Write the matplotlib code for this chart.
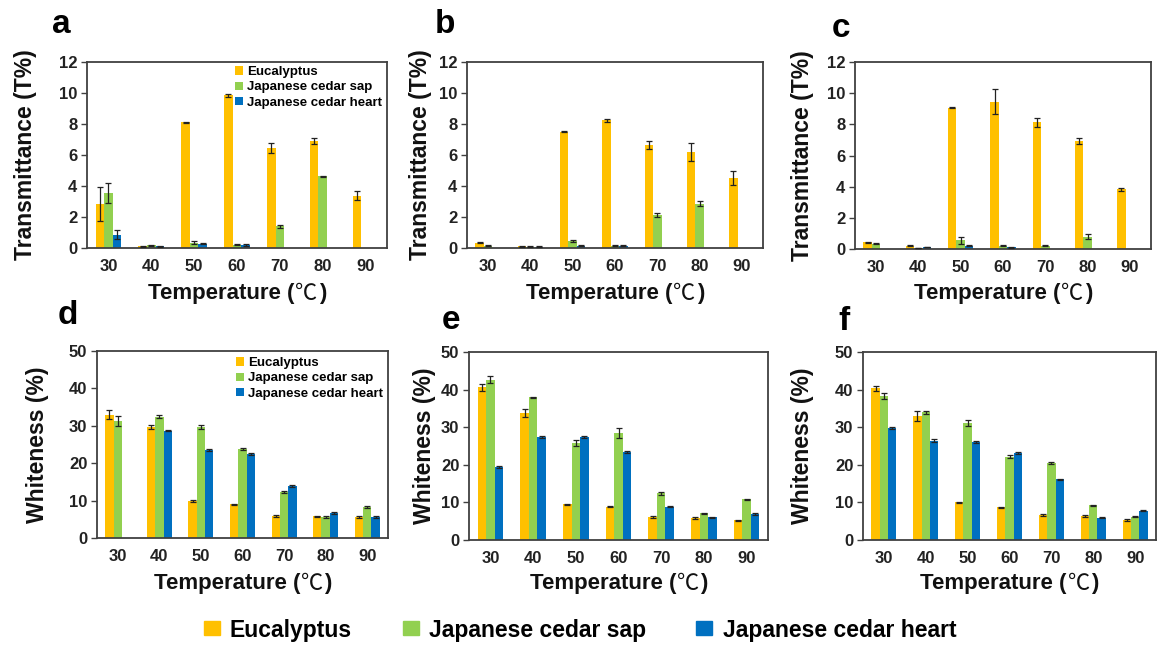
import matplotlib
matplotlib.use("Agg")
import matplotlib.pyplot as plt
from matplotlib.patches import Patch
import numpy as np

plt.rcParams['font.family'] = ['Liberation Sans', 'Noto Sans CJK SC', 'DejaVu Sans']
plt.rcParams['font.weight'] = 'bold'

temps = ["30", "40", "50", "60", "70", "80", "90"]
series_names = ["Eucalyptus", "Japanese cedar sap", "Japanese cedar heart"]
colors = ["#FFC000", "#92D050", "#0070C0"]

# Transmittance (T%)
a_euc = [2.85, 0.12, 8.1, 9.85, 6.45, 6.88, 3.38]
a_sap = [3.55, 0.18, 0.35, 0.22, 1.4, 4.62, 0.0]
a_heart = [0.86, 0.10, 0.28, 0.18, 0.0, 0.0, 0.0]
a_euc_err = [1.1, 0.03, 0.03, 0.1, 0.3, 0.2, 0.3]
a_sap_err = [0.65, 0.03, 0.12, 0.03, 0.08, 0.03, 0.0]
a_heart_err = [0.3, 0.03, 0.05, 0.05, 0.0, 0.0, 0.0]

b_euc = [0.33, 0.12, 7.5, 8.23, 6.65, 6.2, 4.5]
b_sap = [0.15, 0.08, 0.45, 0.15, 2.12, 2.87, 0.0]
b_heart = [0.0, 0.08, 0.15, 0.15, 0.0, 0.0, 0.0]
b_euc_err = [0.03, 0.03, 0.03, 0.1, 0.25, 0.6, 0.45]
b_sap_err = [0.03, 0.03, 0.05, 0.03, 0.15, 0.15, 0.0]
b_heart_err = [0.0, 0.03, 0.05, 0.05, 0.0, 0.0, 0.0]

c_euc = [0.42, 0.2, 9.08, 9.45, 8.12, 6.94, 3.83]
c_sap = [0.35, 0.07, 0.55, 0.2, 0.22, 0.8, 0.0]
c_heart = [0.0, 0.13, 0.2, 0.12, 0.0, 0.0, 0.0]
c_euc_err = [0.05, 0.03, 0.03, 0.8, 0.3, 0.2, 0.1]
c_sap_err = [0.05, 0.02, 0.25, 0.03, 0.05, 0.15, 0.0]
c_heart_err = [0.0, 0.03, 0.03, 0.03, 0.0, 0.0, 0.0]

# Whiteness (%)
d_euc = [32.9, 29.7, 9.9, 9.0, 5.9, 5.8, 5.6]
d_sap = [31.3, 32.4, 29.7, 23.75, 12.2, 5.6, 8.3]
d_heart = [0.0, 28.7, 23.5, 22.4, 13.9, 6.7, 5.6]
d_euc_err = [1.2, 0.6, 0.3, 0.2, 0.2, 0.2, 0.2]
d_sap_err = [1.3, 0.4, 0.5, 0.2, 0.3, 0.2, 0.2]
d_heart_err = [0.0, 0.2, 0.2, 0.2, 0.2, 0.2, 0.2]

e_euc = [40.6, 33.7, 9.5, 8.9, 6.2, 5.9, 5.2]
e_sap = [42.6, 37.9, 25.8, 28.4, 12.4, 7.1, 10.8]
e_heart = [19.4, 27.4, 27.3, 23.4, 8.9, 6.0, 6.9]
e_euc_err = [0.9, 1.1, 0.2, 0.2, 0.3, 0.2, 0.2]
e_sap_err = [0.9, 0.2, 0.8, 1.3, 0.3, 0.2, 0.2]
e_heart_err = [0.3, 0.3, 0.3, 0.2, 0.2, 0.2, 0.2]

f_euc = [40.3, 32.9, 10.0, 8.7, 6.6, 6.3, 5.3]
f_sap = [38.4, 34.0, 31.1, 22.2, 20.4, 9.2, 6.2]
f_heart = [29.8, 26.4, 26.0, 23.2, 16.1, 5.95, 7.8]
f_euc_err = [0.6, 1.3, 0.2, 0.2, 0.2, 0.3, 0.2]
f_sap_err = [0.8, 0.4, 0.9, 0.3, 0.3, 0.2, 0.2]
f_heart_err = [0.3, 0.4, 0.3, 0.2, 0.2, 0.2, 0.2]

W, H = 1159, 646
fig = plt.figure(figsize=(W / 100, H / 100), dpi=100)
renderer = fig.canvas.get_renderer()

def px_axes(l, t, r, b):
    return fig.add_axes([l / W, 1 - b / H, (r - l) / W, (b - t) / H])

def temp_label(cx, cy, size=16):
    # "Temperature (" bold, "℃" regular, ")" bold, centred at pixel (cx, cy)
    parts = [("Temperature (", 'bold', ['Liberation Sans']),
             ("\u2103", 'normal', ['Noto Sans CJK JP', 'DejaVu Sans']),
             (")", 'bold', ['Liberation Sans'])]
    texts = []
    widths = []
    for s, wgt, fam in parts:
        t = fig.text(0, 1 - cy / H, s, ha='left', va='center', fontsize=size,
                     fontweight=wgt, family=fam, color='#111111')
        widths.append(t.get_window_extent(renderer).width)
        texts.append(t)
    gaps = [1.0, 1.0]
    total = sum(widths) + sum(gaps)
    x0 = cx - total / 2
    for i, t in enumerate(texts):
        t.set_x(x0 / W)
        x0 += widths[i] + (gaps[i] if i < len(gaps) else 0)

panels = [
    dict(box=(87, 62, 387, 248), vals=(a_euc, a_sap, a_heart), errs=(a_euc_err, a_sap_err, a_heart_err),
         ymax=12, step=2, ylabel="Transmittance (T%)", letter="a", lpos=(52, 33), ylx=26, xly=293, legend=1.02),
    dict(box=(467, 62, 763, 248), vals=(b_euc, b_sap, b_heart), errs=(b_euc_err, b_sap_err, b_heart_err),
         ymax=12, step=2, ylabel="Transmittance (T%)", letter="b", lpos=(435, 33), ylx=421, xly=293, legend=None),
    dict(box=(855, 62, 1151, 249), vals=(c_euc, c_sap, c_heart), errs=(c_euc_err, c_sap_err, c_heart_err),
         ymax=12, step=2, ylabel="Transmittance (T%)", letter="c", lpos=(832, 37), ylx=802, xly=293, legend=None),
    dict(box=(97, 351, 388, 538), vals=(d_euc, d_sap, d_heart), errs=(d_euc_err, d_sap_err, d_heart_err),
         ymax=50, step=10, ylabel="Whiteness (%)", letter="d", lpos=(58, 324), ylx=38, xly=583, legend=1.01),
    dict(box=(469, 352, 768, 540), vals=(e_euc, e_sap, e_heart), errs=(e_euc_err, e_sap_err, e_heart_err),
         ymax=50, step=10, ylabel="Whiteness (%)", letter="e", lpos=(442, 329), ylx=425, xly=583, legend=None),
    dict(box=(863, 352, 1156, 540), vals=(f_euc, f_sap, f_heart), errs=(f_euc_err, f_sap_err, f_heart_err),
         ymax=50, step=10, ylabel="Whiteness (%)", letter="f", lpos=(838, 330), ylx=803, xly=583, legend=None),
]

x = np.arange(len(temps))
bw = 0.2
for p in panels:
    ax = px_axes(*p["box"])
    for i, (v, e) in enumerate(zip(p["vals"], p["errs"])):
        off = (i - 1) * bw
        vv = np.array(v)
        ee = np.array(e)
        mask = vv > 0
        ax.bar(x + off, vv, width=bw, color=colors[i], label=series_names[i], zorder=2)
        ax.errorbar((x + off)[mask], vv[mask], yerr=ee[mask], fmt='none', ecolor='#222222',
                    elinewidth=0.9, capsize=2, capthick=0.9, zorder=3)
    ax.set_xlim(-0.5, len(temps) - 0.5)
    ax.set_ylim(0, p["ymax"])
    ax.set_yticks(np.arange(0, p["ymax"] + 0.01, p["step"]))
    ax.set_xticks(x)
    ax.set_xticklabels(temps)
    ax.tick_params(axis='both', labelsize=12, labelcolor='#222222')
    ax.tick_params(axis='x', length=0, pad=8)
    ax.tick_params(axis='y', length=4, width=1.0, color='#404040', direction='out', pad=3)
    for lab in ax.get_xticklabels() + ax.get_yticklabels():
        lab.set_fontweight('bold')
    for s in ax.spines.values():
        s.set_color('#404040')
        s.set_linewidth(1.3)
    l, t, r, b = p["box"]
    temp_label((l + r) / 2, p["xly"], size=16)
    fig.text(p["ylx"] / W, 1 - (t + b) / 2 / H, p["ylabel"], ha='center', va='center', rotation=90,
             fontsize=16.5, fontweight='bold', color='#111111')
    fig.text(p["lpos"][0] / W, 1 - p["lpos"][1] / H, p["letter"], ha='left', va='baseline',
             fontsize=24, fontweight='bold', color='black')
    if p["legend"] is not None:
        ax.legend(loc='upper right', bbox_to_anchor=(1.01, p["legend"]), frameon=False,
                  handlelength=0.6, handleheight=0.6, handletextpad=0.3, labelspacing=0.25,
                  prop=dict(weight='bold', size=9.5), borderaxespad=0.2)

handles = [Patch(color=c) for c in colors]
fig.legend(handles, series_names, loc='center', bbox_to_anchor=(580 / W, 1 - 630 / H), ncol=3,
           frameon=False, prop=dict(weight='bold', size=16.5),
           handlelength=0.7, handleheight=0.55, handletextpad=0.45, columnspacing=2.2)

fig.savefig("out.png", dpi=100)
